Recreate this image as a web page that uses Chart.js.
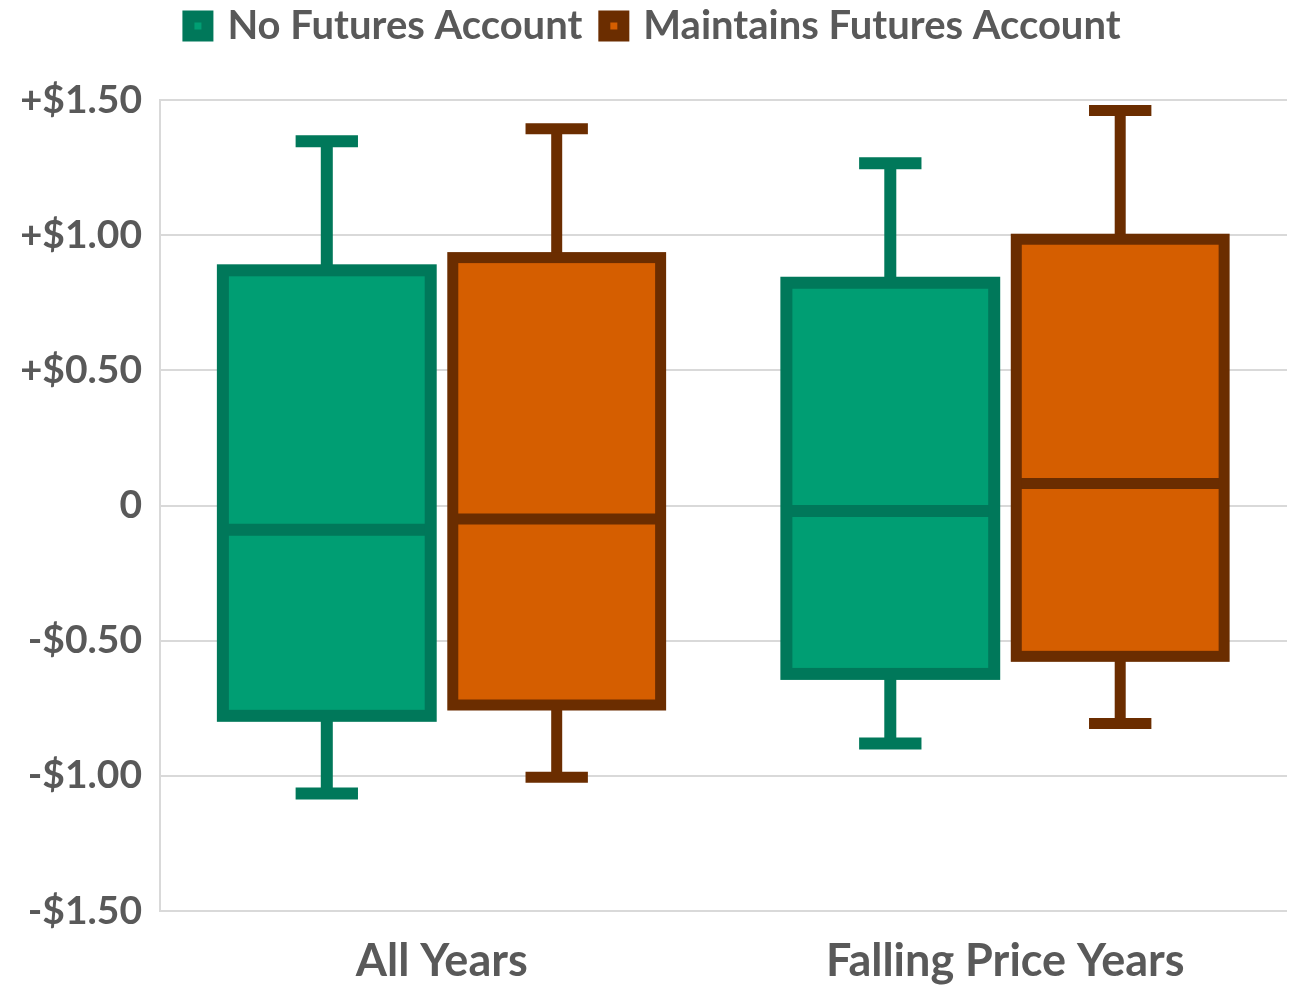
<!DOCTYPE html>
<html>
<head>
<meta charset="utf-8">
<script src="https://cdn.jsdelivr.net/npm/chart.js@4.4.1/dist/chart.umd.min.js"></script>
<style>
  html, body { margin: 0; padding: 0; background: #fff; }
  #wrap { width: 1292px; height: 986px; }
</style>
</head>
<body>
<div id="wrap"><canvas id="grafico"></canvas></div>
<script>
// categorias y cuartiles (dolares)
const categorias = ['All Years', 'Falling Price Years'];

const sinCuentaMin = [-1.065, -0.88];
const sinCuentaQ1 = [-0.778, -0.623];
const sinCuentaMediana = [-0.09, -0.02];
const sinCuentaQ3 = [0.87, 0.824];
const sinCuentaMax = [1.347, 1.266];

const conCuentaMin = [-1.005, -0.806];
const conCuentaQ1 = [-0.738, -0.558];
const conCuentaMediana = [-0.05, 0.081];
const conCuentaQ3 = [0.917, 0.985];
const conCuentaMax = [1.394, 1.461];

const ticksY = [-1.5, -1, -0.5, 0, 0.5, 1, 1.5];

const GRIS_TEXTO = '#595959';
const FUENTE = 'Lato, "Open Sans", sans-serif';

function armarSerie(nombre, min, q1, med, q3, max, relleno, borde, grosor) {
    return {
        label: nombre,
        data: categorias.map((c, i) => [q1[i], q3[i]]),
        backgroundColor: relleno,
        borderWidth: 0,
        caja: { min, med, max, borde, grosor }
    };
}

// dibuja el contorno de la caja, la mediana y los bigotes
const bigotes = {
    id: 'bigotes',
    afterDatasetsDraw(chart) {
        const ctx = chart.ctx;
        const y = chart.scales.y;
        chart.data.datasets.forEach((ds, di) => {
            const meta = chart.getDatasetMeta(di);
            const c = ds.caja;
            meta.data.forEach((bar, i) => {
                const ancho = bar.width;
                const izq = bar.x - ancho / 2;
                const yQ3 = y.getPixelForValue(ds.data[i][1]);
                const yQ1 = y.getPixelForValue(ds.data[i][0]);
                const yMed = y.getPixelForValue(c.med[i]);
                const yMax = y.getPixelForValue(c.max[i]);
                const yMin = y.getPixelForValue(c.min[i]);
                const tope = ancho * 0.3;

                ctx.save();
                ctx.strokeStyle = c.borde;
                ctx.lineWidth = c.grosor;
                ctx.lineJoin = 'miter';
                ctx.lineCap = 'butt';

                ctx.beginPath();
                ctx.moveTo(bar.x, yQ3); ctx.lineTo(bar.x, yMax);
                ctx.moveTo(bar.x - tope / 2, yMax); ctx.lineTo(bar.x + tope / 2, yMax);
                ctx.moveTo(bar.x, yQ1); ctx.lineTo(bar.x, yMin);
                ctx.moveTo(bar.x - tope / 2, yMin); ctx.lineTo(bar.x + tope / 2, yMin);
                ctx.moveTo(izq, yMed); ctx.lineTo(izq + ancho, yMed);
                ctx.stroke();

                ctx.strokeRect(izq, yQ3, ancho, yQ1 - yQ3);
                ctx.restore();
            });
        });
    }
};

// deja la leyenda con alto fijo para que el area empiece en y=100
const altoLeyenda = {
    id: 'altoLeyenda',
    beforeInit(chart) {
        const fitOriginal = chart.legend.fit;
        chart.legend.fit = function () {
            fitOriginal.call(this);
            this.height = 116;
        };
    }
};

new Chart(document.getElementById('grafico'), {
    type: 'bar',
    data: {
        labels: categorias,
        datasets: [
            armarSerie('No Futures Account', sinCuentaMin, sinCuentaQ1, sinCuentaMediana, sinCuentaQ3, sinCuentaMax, '#009E73', '#00785A', 12),
            armarSerie('Maintains Futures Account', conCuentaMin, conCuentaQ1, conCuentaMediana, conCuentaQ3, conCuentaMax, '#D55E00', '#6B2D00', 11)
        ]
    },
    options: {
        responsive: true,
        maintainAspectRatio: false,
        animation: false,
        layout: { padding: { top: -16, right: 5, left: 22, bottom: 0 } },
        datasets: { bar: { categoryPercentage: 0.816, barPercentage: 0.904 } },
        plugins: {
            tooltip: { enabled: false },
            legend: {
                position: 'top',
                labels: {
                    boxWidth: 19,
                    boxHeight: 19,
                    padding: 22,
                    color: GRIS_TEXTO,
                    font: { family: FUENTE, size: 40, weight: 'bold' },
                    generateLabels(chart) {
                        return chart.data.datasets.map((ds, i) => ({
                            text: ds.label,
                            fillStyle: ds.backgroundColor,
                            strokeStyle: ds.caja.borde,
                            lineWidth: 12,
                            fontColor: GRIS_TEXTO,
                            hidden: false,
                            datasetIndex: i
                        }));
                    }
                }
            }
        },
        scales: {
            x: {
                grid: { display: false },
                border: { display: false },
                ticks: {
                    color: GRIS_TEXTO,
                    font: { family: FUENTE, size: 45, weight: 'bold' },
                    padding: 15
                },
                afterFit(scale) { scale.height = 75; }
            },
            y: {
                min: -1.5,
                max: 1.5,
                afterBuildTicks(scale) { scale.ticks = ticksY.map(v => ({ value: v })); },
                grid: { color: '#d9d9d9', lineWidth: 2, drawTicks: false },
                border: { display: true, color: '#d9d9d9', width: 2 },
                ticks: {
                    color: GRIS_TEXTO,
                    padding: 18,
                    font: { family: FUENTE, size: 39, weight: 'bold' },
                    callback(v) {
                        if (v === 0) return '0';
                        return (v > 0 ? '+' : '-') + '$' + Math.abs(v).toFixed(2);
                    }
                },
                afterFit(scale) { scale.width = 138; }
            }
        }
    },
    plugins: [bigotes, altoLeyenda]
});
</script>
</body>
</html>
